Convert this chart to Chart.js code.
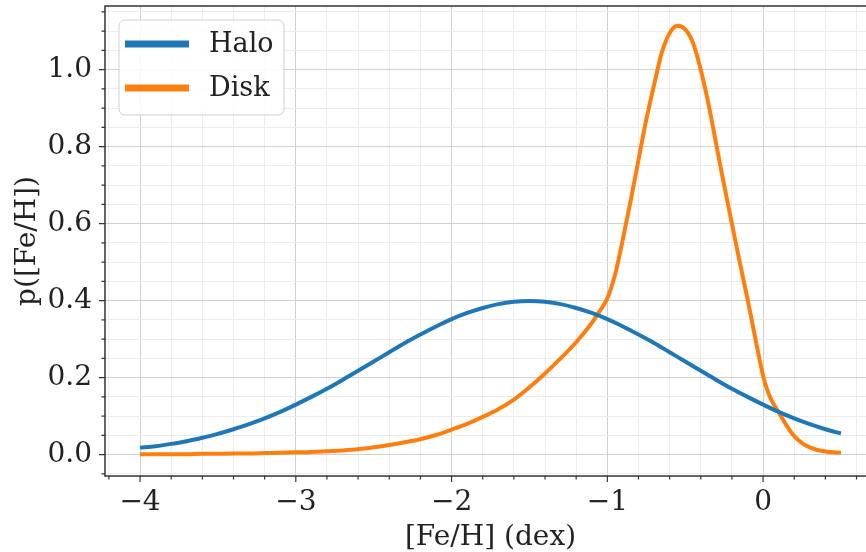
<!DOCTYPE html>
<html>
<head>
<meta charset="utf-8">
<script src="https://cdn.jsdelivr.net/npm/chart.js@4/dist/chart.umd.min.js"></script>
<style>
  html, body { margin: 0; padding: 0; background: #fff; overflow: hidden; }
  #wrap { position: relative; width: 880px; height: 552px; }
</style>
</head>
<body>
<div id="wrap"><canvas id="myChart"></canvas></div>
<script>
// values
const haloX = [-4.0, -3.9, -3.8, -3.7, -3.6, -3.5, -3.4, -3.3, -3.2, -3.1,
               -3.0, -2.9, -2.8, -2.7, -2.6, -2.5, -2.4, -2.3, -2.2, -2.1,
               -2.0, -1.9, -1.8, -1.7, -1.6, -1.5, -1.4, -1.3, -1.2, -1.1,
               -1.0, -0.9, -0.8, -0.7, -0.6, -0.5, -0.4, -0.3, -0.2, -0.1,
               0.0, 0.1, 0.2, 0.3, 0.4, 0.5];
const haloY = [0.018, 0.022, 0.028, 0.035, 0.044, 0.054, 0.066, 0.079, 0.094, 0.111,
               0.130, 0.150, 0.171, 0.194, 0.218, 0.242, 0.266, 0.290, 0.312, 0.333,
               0.352, 0.368, 0.381, 0.391, 0.397, 0.399, 0.397, 0.391, 0.381, 0.368,
               0.352, 0.333, 0.312, 0.290, 0.266, 0.242, 0.218, 0.194, 0.171, 0.150,
               0.130, 0.111, 0.094, 0.079, 0.066, 0.055];

const diskX = [-4.0, -3.9, -3.8, -3.7, -3.6, -3.5, -3.4, -3.3, -3.2, -3.1,
               -3.0, -2.9, -2.8, -2.7, -2.6, -2.5, -2.4, -2.3, -2.2, -2.1,
               -2.0, -1.9, -1.8, -1.7, -1.6, -1.5, -1.4, -1.3, -1.2, -1.1,
               -1.05, -1.0, -0.95, -0.9, -0.85, -0.8, -0.75, -0.7, -0.65, -0.6,
               -0.55, -0.5, -0.45, -0.4, -0.35, -0.3, -0.25, -0.2, -0.15, -0.1,
               -0.05, 0.0, 0.025, 0.05, 0.1, 0.15, 0.2, 0.25, 0.3, 0.35, 0.4, 0.45, 0.5];
const diskY = [0.001, 0.001, 0.001, 0.001, 0.002, 0.002, 0.003, 0.003, 0.004, 0.005,
               0.006, 0.007, 0.009, 0.011, 0.014, 0.019, 0.025, 0.032, 0.040, 0.051,
               0.065, 0.080, 0.098, 0.118, 0.143, 0.175, 0.211, 0.250, 0.292, 0.342,
               0.372, 0.406, 0.468, 0.560, 0.660, 0.765, 0.870, 0.960, 1.045, 1.095,
               1.114, 1.105, 1.070, 1.000, 0.910, 0.805, 0.700, 0.600, 0.500, 0.405,
               0.302, 0.205, 0.170, 0.145, 0.110, 0.076, 0.048, 0.030, 0.019, 0.012, 0.008, 0.006, 0.005];

const seriesLabels = ["Halo", "Disk"];
const seriesColors = ["#1f77b4", "#ff7f0e"];

const xMajor = [-4, -3, -2, -1, 0];
const yMajor = [0.0, 0.2, 0.4, 0.6, 0.8, 1.0];
const xTitle = "[Fe/H] (dex)";
const yTitle = "p([Fe/H])";

const FONT = "'DejaVu Serif', serif";
const TXT = "#222222";
const FS = 28;

function pts(xs, ys) {
    var out = [];
    for (var i = 0; i < xs.length; i++) {
        out.push({ x: xs[i], y: ys[i] });
    }
    return out;
}

function isMajor(v, majors) {
    return majors.some(m => Math.abs(m - v) < 1e-6);
}

// minor ticks: 0.2 on x, 0.05 on y
var xTicks = [];
for (var i = -21; i <= 3; i++) xTicks.push(Math.round(i * 0.2 * 1000) / 1000);
var yTicks = [];
for (var j = -1; j <= 23; j++) yTicks.push(Math.round(j * 0.05 * 1000) / 1000);

const frame = {
    id: "frame",
    afterDraw(chart) {
        const ctx = chart.ctx;
        const a = chart.chartArea;
        const xs = chart.scales.x, ys = chart.scales.y;
        ctx.save();
        ctx.strokeStyle = "#333333";
        ctx.lineWidth = 1.5;
        ctx.strokeRect(a.left, a.top, a.right - a.left, a.bottom - a.top);

        // tick marks
        ctx.lineWidth = 1.2;
        ctx.beginPath();
        xTicks.forEach(v => {
            const p = xs.getPixelForValue(v);
            const len = isMajor(v, xMajor) ? 6 : 3.5;
            ctx.moveTo(p, a.bottom);
            ctx.lineTo(p, a.bottom + len);
        });
        yTicks.forEach(v => {
            const p = ys.getPixelForValue(v);
            const len = isMajor(v, yMajor) ? 6 : 3.5;
            ctx.moveTo(a.left, p);
            ctx.lineTo(a.left - len, p);
        });
        ctx.stroke();

        // legend
        const lx = 119, ly = 20, lw = 165, lh = 95;
        ctx.beginPath();
        ctx.roundRect(lx, ly, lw, lh, 6);
        ctx.fillStyle = "rgba(255,255,255,0.85)";
        ctx.fill();
        ctx.strokeStyle = "#d0d0d0";
        ctx.lineWidth = 1;
        ctx.stroke();
        ctx.font = "27px " + FONT;
        ctx.textBaseline = "middle";
        ctx.textAlign = "left";
        chart.data.datasets.forEach((ds, k) => {
            const y = 44 + k * 44;
            ctx.strokeStyle = ds.borderColor;
            ctx.lineWidth = 7;
            ctx.beginPath();
            ctx.moveTo(125, y);
            ctx.lineTo(189, y);
            ctx.stroke();
            ctx.fillStyle = TXT;
            ctx.fillText(ds.label, 209, y + 1);
        });
        ctx.restore();
    }
};

const config = {
    type: "line",
    data: {
        datasets: [
            {
                label: seriesLabels[0],
                data: pts(haloX, haloY),
                borderColor: seriesColors[0],
                borderWidth: 4,
                pointRadius: 0,
                cubicInterpolationMode: "monotone",
                fill: false,
            },
            {
                label: seriesLabels[1],
                data: pts(diskX, diskY),
                borderColor: seriesColors[1],
                borderWidth: 4,
                pointRadius: 0,
                cubicInterpolationMode: "monotone",
                fill: false,
            },
        ],
    },
    options: {
        responsive: true,
        maintainAspectRatio: false,
        animation: false,
        layout: { padding: { top: 6, right: 4, left: 0, bottom: 0 } },
        plugins: {
            legend: { display: false },
            tooltip: { enabled: false },
        },
        scales: {
            x: {
                type: "linear",
                min: -4.225,
                max: 0.725,
                afterBuildTicks: s => { s.ticks = xTicks.map(v => ({ value: v })); },
                afterFit: s => { s.height = 76; s.paddingLeft = 0; s.paddingRight = 0; },
                grid: {
                    drawTicks: false,
                    color: c => isMajor(c.tick.value, xMajor) ? "#cfcfcf" : "#ececec",
                    lineWidth: 1,
                },
                border: { display: false },
                ticks: {
                    autoSkip: false,
                    maxRotation: 0,
                    padding: 10,
                    color: TXT,
                    font: { family: FONT, size: FS },
                    callback: v => isMajor(v, xMajor) ? String(Math.round(v)).replace("-", "\u2212") : "",
                },
                title: {
                    display: true,
                    text: xTitle,
                    color: TXT,
                    font: { family: FONT, size: FS, lineHeight: 1.0 },
                    padding: { top: 0, bottom: 0 },
                },
            },
            y: {
                type: "linear",
                min: -0.0555,
                max: 1.1655,
                afterBuildTicks: s => { s.ticks = yTicks.map(v => ({ value: v })); },
                afterFit: s => { s.width = 105; s.paddingTop = 0; s.paddingBottom = 0; },
                grid: {
                    drawTicks: false,
                    color: c => isMajor(c.tick.value, yMajor) ? "#cfcfcf" : "#ececec",
                    lineWidth: 1,
                },
                border: { display: false },
                ticks: {
                    autoSkip: false,
                    padding: 13,
                    color: TXT,
                    font: { family: FONT, size: FS },
                    callback: v => isMajor(v, yMajor) ? v.toFixed(1) : "",
                },
                title: {
                    display: true,
                    text: yTitle,
                    color: TXT,
                    font: { family: FONT, size: FS },
                    padding: { top: 11, bottom: 0 },
                },
            },
        },
    },
    plugins: [frame],
};

new Chart(document.getElementById("myChart"), config);
</script>
</body>
</html>
